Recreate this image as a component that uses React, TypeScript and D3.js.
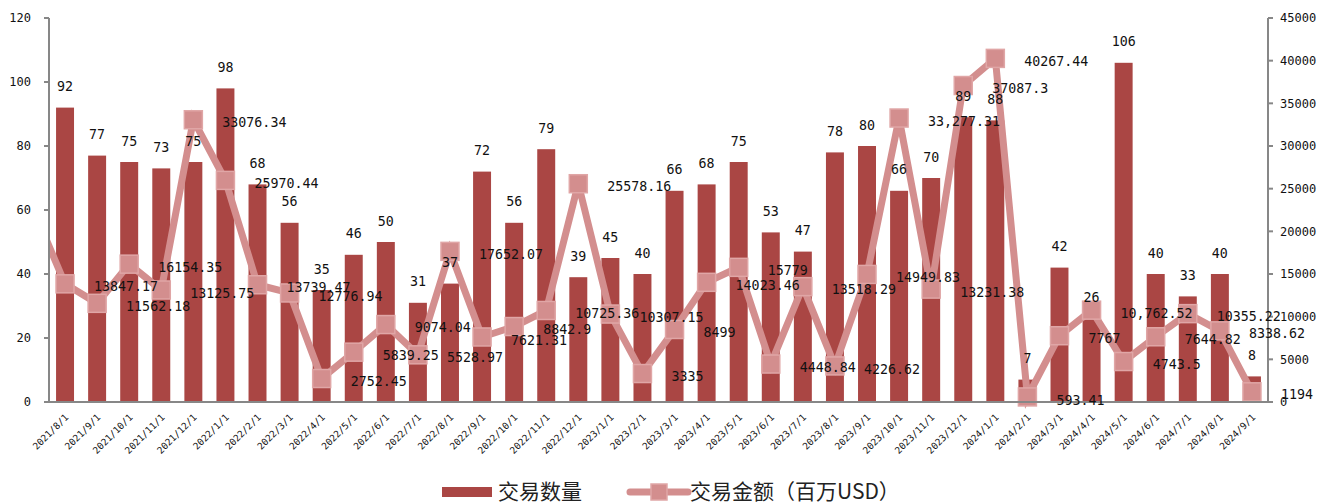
import React, { useEffect, useRef } from 'react';
import * as d3 from 'd3';

// months on the category axis
const months = [
  '2021/8/1', '2021/9/1', '2021/10/1', '2021/11/1', '2021/12/1',
  '2022/1/1', '2022/2/1', '2022/3/1', '2022/4/1', '2022/5/1', '2022/6/1',
  '2022/7/1', '2022/8/1', '2022/9/1', '2022/10/1', '2022/11/1', '2022/12/1',
  '2023/1/1', '2023/2/1', '2023/3/1', '2023/4/1', '2023/5/1', '2023/6/1',
  '2023/7/1', '2023/8/1', '2023/9/1', '2023/10/1', '2023/11/1', '2023/12/1',
  '2024/1/1', '2024/2/1', '2024/3/1', '2024/4/1', '2024/5/1', '2024/6/1',
  '2024/7/1', '2024/8/1', '2024/9/1',
];

// 交易数量 (bars, left axis)
const dealCounts = [
  92, 77, 75, 73, 75,
  98, 68, 56, 35, 46, 50, 31, 37, 72, 56, 79, 39,
  45, 40, 66, 68, 75, 53, 47, 78, 80, 66, 70, 89,
  88, 7, 42, 26, 106, 40, 33, 40, 8,
];

// 交易金额 (line, right axis, 百万USD)
const dealAmounts = [
  13847.17, 11562.18, 16154.35, 13125.75, 33076.34,
  25970.44, 13739.47, 12776.94, 2752.45, 5839.25, 9074.04, 5528.97, 17652.07,
  7621.31, 8842.9, 10725.36, 25578.16,
  10307.15, 3335, 8499, 14023.46, 15779, 4448.84, 13518.29, 4226.62,
  14949.83, 33277.31, 13231.38, 37087.3,
  40267.44, 593.41, 7767, 10762.52, 4743.5, 7644.82, 10355.22, 8338.62, 1194,
];

// labels as printed on the chart (two of them carry thousands separators)
const amountLabels = [
  '13847.17', '11562.18', '16154.35', '13125.75', '33076.34',
  '25970.44', '13739.47', '12776.94', '2752.45', '5839.25', '9074.04', '5528.97', '17652.07',
  '7621.31', '8842.9', '10725.36', '25578.16',
  '10307.15', '3335', '8499', '14023.46', '15779', '4448.84', '13518.29', '4226.62',
  '14949.83', '33,277.31', '13231.38', '37087.3',
  '40267.44', '593.41', '7767', '10,762.52', '4743.5', '7644.82', '10355.22', '8338.62', '1194',
];

// the month before the first category: only the clipped tail of its segment shows
const amountBefore = 22700;

const countTicks = [0, 20, 40, 60, 80, 100, 120];
const amountTicks = [0, 5000, 10000, 15000, 20000, 25000, 30000, 35000, 40000, 45000];
const legendNames = ['交易数量', '交易金额（百万USD）'];

const BAR = '#AA4644';
const LINE = '#D38E8E';
const MARKER_EDGE = '#E0A6A6';
const AXIS = '#878787';
const MONO = '"DejaVu Sans Mono", monospace';
const CJK = '"Noto Sans CJK SC", sans-serif';

const ComboChart: React.FC = () => {
  const svgRef = useRef<SVGSVGElement>(null);

  useEffect(() => {
    if (!svgRef.current) return;
    const svg = d3.select(svgRef.current);
    svg.selectAll('*').remove();

    const left = 49;
    const right = 1268;
    const top = 18;
    const bottom = 402;

    const x = d3.scaleBand<string>()
      .domain(months)
      .range([left, right])
      .paddingInner(0.44)
      .paddingOuter(0.22);
    const cx = (m: string) => (x(m) ?? 0) + x.bandwidth() / 2;

    const yL = d3.scaleLinear().domain([0, 120]).range([bottom, top]);
    const yR = d3.scaleLinear().domain([0, 45000]).range([bottom, top]);

    svg.append('defs').append('clipPath').attr('id', 'plot-clip')
      .append('rect')
      .attr('x', left).attr('y', 0)
      .attr('width', right - left).attr('height', bottom + 10);

    // bars
    svg.append('g').selectAll('rect')
      .data(dealCounts)
      .enter().append('rect')
      .attr('x', (_, i) => x(months[i]) ?? 0)
      .attr('y', d => yL(d))
      .attr('width', x.bandwidth())
      .attr('height', d => yL(0) - yL(d))
      .attr('fill', BAR);

    // line (with the leading segment from the previous month, clipped)
    const pts: [number, number][] = dealAmounts.map((d, i) => [cx(months[i]), yR(d)]);
    const lead: [number, number] = [cx(months[0]) - x.step(), yR(amountBefore)];
    svg.append('path')
      .attr('d', d3.line()([lead, ...pts]))
      .attr('clip-path', 'url(#plot-clip)')
      .attr('fill', 'none')
      .attr('stroke', LINE)
      .attr('stroke-width', 7)
      .attr('stroke-linejoin', 'miter');

    const ms = 18;
    svg.append('g').selectAll('rect')
      .data(pts)
      .enter().append('rect')
      .attr('x', d => d[0] - ms / 2)
      .attr('y', d => d[1] - ms / 2)
      .attr('width', ms)
      .attr('height', ms)
      .attr('fill', LINE)
      .attr('stroke', MARKER_EDGE)
      .attr('stroke-width', 1.5);

    // axes
    const ax = svg.append('g').attr('stroke', AXIS).attr('stroke-width', 2);
    ax.append('line').attr('x1', left).attr('x2', left).attr('y1', top).attr('y2', bottom + 1);
    ax.append('line').attr('x1', right).attr('x2', right).attr('y1', top).attr('y2', bottom + 1);
    ax.append('line').attr('x1', left - 1).attr('x2', right + 1).attr('y1', bottom).attr('y2', bottom);
    ax.selectAll('.tl').data(countTicks).enter().append('line')
      .attr('x1', left - 5).attr('x2', left).attr('y1', d => yL(d)).attr('y2', d => yL(d));
    ax.selectAll('.tr').data(amountTicks).enter().append('line')
      .attr('x1', right).attr('x2', right + 5).attr('y1', d => yR(d)).attr('y2', d => yR(d));

    svg.append('g').selectAll('text')
      .data(countTicks)
      .enter().append('text')
      .attr('x', 31)
      .attr('y', d => yL(d))
      .attr('dy', '0.35em')
      .attr('text-anchor', 'end')
      .style('font-family', MONO)
      .style('font-size', '12px')
      .style('fill', '#111')
      .text(d => d);

    svg.append('g').selectAll('text')
      .data(amountTicks)
      .enter().append('text')
      .attr('x', 1280)
      .attr('y', d => yR(d))
      .attr('dy', '0.35em')
      .attr('text-anchor', 'start')
      .style('font-family', MONO)
      .style('font-size', '12px')
      .style('fill', '#111')
      .text(d => d);

    // category labels
    svg.append('g').selectAll('text')
      .data(months)
      .enter().append('text')
      .attr('transform', d => `translate(${cx(d) + 4},${418}) rotate(-45)`)
      .attr('text-anchor', 'end')
      .style('font-family', MONO)
      .style('font-size', '9.5px')
      .style('fill', '#111')
      .text(d => d);

    // data labels
    svg.append('g').selectAll('text')
      .data(dealCounts)
      .enter().append('text')
      .attr('x', (_, i) => cx(months[i]))
      .attr('y', d => yL(d) - 21)
      .attr('dy', '0.35em')
      .attr('text-anchor', 'middle')
      .style('font-family', MONO)
      .style('font-size', '13.3px')
      .style('fill', '#111')
      .text(d => d);

    svg.append('g').selectAll('text')
      .data(amountLabels)
      .enter().append('text')
      .attr('x', (_, i) => cx(months[i]) + 29)
      .attr('y', (_, i) => yR(dealAmounts[i]) + 3)
      .attr('dy', '0.35em')
      .attr('text-anchor', 'start')
      .style('font-family', MONO)
      .style('font-size', '13.3px')
      .style('fill', '#111')
      .text(d => d);

    // legend
    const lg = svg.append('g');
    lg.append('rect').attr('x', 442).attr('y', 487).attr('width', 50).attr('height', 10).attr('fill', BAR);
    lg.append('text')
      .attr('x', 498).attr('y', 492).attr('dy', '0.35em')
      .style('font-family', CJK).style('font-size', '21px').style('fill', '#222')
      .text(legendNames[0]);
    lg.append('line')
      .attr('x1', 630).attr('x2', 688).attr('y1', 492).attr('y2', 492)
      .attr('stroke', LINE).attr('stroke-width', 7).attr('stroke-linecap', 'round');
    lg.append('rect')
      .attr('x', 659 - 8).attr('y', 492 - 8).attr('width', 16).attr('height', 16)
      .attr('fill', LINE).attr('stroke', MARKER_EDGE).attr('stroke-width', 1.5);
    lg.append('text')
      .attr('x', 690).attr('y', 492).attr('dy', '0.35em')
      .style('font-family', CJK).style('font-size', '21px').style('fill', '#222')
      .text(legendNames[1]);
  }, []);

  return <svg ref={svgRef} width={1330} height={502} style={{ display: 'block' }} />;
};

export default function App() {
  return (
    <>
      <style>{'body { margin: 0; }'}</style>
      <ComboChart />
    </>
  );
}
